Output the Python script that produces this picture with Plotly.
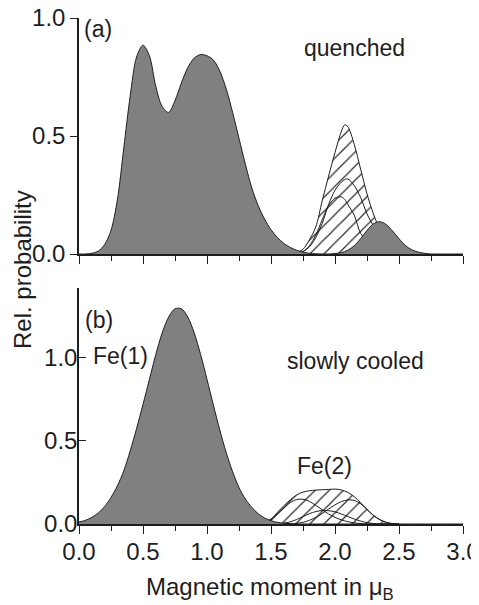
import plotly.graph_objects as go

# ---------------- data ----------------
# panel (a) quenched : Fe(1) grey distribution
xa_fe1 = [0.00, 0.05, 0.10, 0.15, 0.20, 0.25, 0.30, 0.35, 0.40, 0.45, 0.50, 0.55,
          0.60, 0.65, 0.70, 0.75, 0.80, 0.85, 0.90, 0.95, 1.00, 1.05, 1.10, 1.15,
          1.20, 1.25, 1.30, 1.35, 1.40, 1.45, 1.50, 1.55, 1.60, 1.65, 1.70, 1.75,
          1.80, 1.85, 1.90, 1.95, 2.00, 2.05, 2.10, 2.15, 2.20, 2.25, 2.30, 2.35,
          2.40, 2.45, 2.50, 2.55, 2.60, 2.65, 2.70, 2.75, 2.80, 2.90, 3.00]
ya_fe1 = [0.000, 0.000, 0.003, 0.012, 0.040, 0.100, 0.230, 0.450, 0.670, 0.835, 0.885, 0.840,
          0.710, 0.625, 0.600, 0.650, 0.725, 0.790, 0.830, 0.845, 0.840, 0.822, 0.775, 0.700,
          0.600, 0.490, 0.380, 0.280, 0.205, 0.148, 0.103, 0.070, 0.045, 0.028, 0.016, 0.008,
          0.003, 0.001, 0.000, 0.000, 0.002, 0.006, 0.016, 0.035, 0.065, 0.100, 0.128, 0.137,
          0.125, 0.097, 0.065, 0.036, 0.018, 0.008, 0.003, 0.000, 0.000, 0.000, 0.000]

# panel (a) : Fe(2) hatched envelope and two components
xa_fe2 = [1.65, 1.70, 1.75, 1.80, 1.85, 1.90, 1.95, 2.00, 2.05, 2.075, 2.10, 2.15,
          2.20, 2.25, 2.30, 2.35, 2.40, 2.45, 2.50, 2.55, 2.60]
ya_fe2_env = [0.000, 0.005, 0.020, 0.060, 0.115, 0.225, 0.330, 0.430, 0.520, 0.547, 0.540, 0.465,
              0.360, 0.255, 0.170, 0.105, 0.060, 0.030, 0.012, 0.004, 0.000]
ya_fe2_c1 = [0.000, 0.000, 0.010, 0.030, 0.070, 0.130, 0.210, 0.270, 0.305, 0.315, 0.318, 0.290,
             0.240, 0.170, 0.120, 0.075, 0.040, 0.020, 0.008, 0.002, 0.000]
ya_fe2_c2 = [0.000, 0.000, 0.010, 0.035, 0.080, 0.145, 0.205, 0.237, 0.242, 0.232, 0.210, 0.165,
             0.088, 0.055, 0.025, 0.010, 0.000, 0.000, 0.000, 0.000, 0.000]

# panel (b) slowly cooled : Fe(1) grey distribution
xb_fe1 = [0.00, 0.05, 0.10, 0.15, 0.20, 0.25, 0.30, 0.35, 0.40, 0.45, 0.50, 0.55,
          0.60, 0.65, 0.70, 0.75, 0.80, 0.85, 0.90, 0.95, 1.00, 1.05, 1.10, 1.15,
          1.20, 1.25, 1.30, 1.35, 1.40, 1.45, 1.50, 1.55, 1.60, 1.65, 1.70, 1.80,
          2.00, 2.50, 3.00]
yb_fe1 = [0.012, 0.022, 0.040, 0.066, 0.105, 0.160, 0.230, 0.320, 0.440, 0.575, 0.720, 0.870,
          1.020, 1.150, 1.245, 1.295, 1.295, 1.245, 1.150, 1.020, 0.870, 0.715, 0.565, 0.430,
          0.315, 0.220, 0.150, 0.100, 0.062, 0.036, 0.020, 0.010, 0.005, 0.002, 0.000, 0.000,
          0.000, 0.000, 0.000]

# panel (b) : Fe(2) hatched envelope and three components
xb_fe2 = [1.40, 1.45, 1.50, 1.55, 1.60, 1.65, 1.70, 1.75, 1.80, 1.85, 1.90, 1.95,
          2.00, 2.05, 2.10, 2.15, 2.20, 2.25, 2.30, 2.35, 2.40, 2.45, 2.50]
yb_fe2_env = [0.000, 0.010, 0.030, 0.070, 0.110, 0.145, 0.175, 0.192, 0.200, 0.204, 0.206, 0.208,
              0.210, 0.205, 0.190, 0.165, 0.128, 0.088, 0.052, 0.026, 0.010, 0.002, 0.000]
yb_fe2_c1 = [0.000, 0.008, 0.025, 0.060, 0.095, 0.128, 0.147, 0.149, 0.136, 0.112, 0.086, 0.060,
             0.040, 0.025, 0.014, 0.007, 0.003, 0.000, 0.000, 0.000, 0.000, 0.000, 0.000]
yb_fe2_c2 = [0.000, 0.000, 0.000, 0.000, 0.005, 0.013, 0.027, 0.045, 0.062, 0.075, 0.081, 0.080,
             0.073, 0.060, 0.045, 0.030, 0.018, 0.008, 0.003, 0.000, 0.000, 0.000, 0.000]
yb_fe2_c3 = [0.000, 0.000, 0.000, 0.000, 0.000, 0.000, 0.004, 0.010, 0.022, 0.040, 0.063, 0.090,
             0.115, 0.135, 0.145, 0.142, 0.122, 0.088, 0.052, 0.026, 0.010, 0.002, 0.000]

x_ticks = [0.0, 0.5, 1.0, 1.5, 2.0, 2.5, 3.0]
x_ticklabels = ["0.0", "0.5", "1.0", "1.5", "2.0", "2.5", "3.0"]
y_ticks = [0.0, 0.5, 1.0]
y_ticklabels = ["0.0", "0.5", "1.0"]

# ---------------- styling ----------------
PAGE_OFF = 8                 # default body margin of the html page
W, H = 479 - PAGE_OFF, 605 - PAGE_OFF
FONT = "Liberation Sans, Arial, sans-serif"
INK = "#1e1e1e"
GREY = "#808080"


def fx(x):
    return (x - PAGE_OFF) / W


def fy(y):
    return 1 - (y - PAGE_OFF) / H


fig = go.Figure()

line_kw = dict(shape="spline", smoothing=0.9, color=INK, width=1)
hatch = dict(shape="/", fgcolor="#2a2a2a", bgcolor="white", size=10, solidity=0.12)


def add_panel(xa, ya, x2, env, comps, xref, yref):
    fig.add_trace(go.Scatter(x=x2, y=env, mode="lines", line=line_kw, fill="tozeroy",
                             fillcolor="white", fillpattern=hatch, xaxis=xref, yaxis=yref,
                             hoverinfo="skip", showlegend=False))
    for c in comps:
        fig.add_trace(go.Scatter(x=x2, y=c, mode="lines", line=line_kw, xaxis=xref,
                                 yaxis=yref, hoverinfo="skip", showlegend=False))
    fig.add_trace(go.Scatter(x=xa, y=ya, mode="lines", line=line_kw, fill="tozeroy",
                             fillcolor=GREY, xaxis=xref, yaxis=yref, hoverinfo="skip",
                             showlegend=False))


add_panel(xa_fe1, ya_fe1, xa_fe2, ya_fe2_env, [ya_fe2_c1, ya_fe2_c2], "x", "y")
add_panel(xb_fe1, yb_fe1, xb_fe2, yb_fe2_env, [yb_fe2_c1, yb_fe2_c2, yb_fe2_c3], "x2", "y2")

xdom = [fx(79), fx(463)]
axis_common = dict(showline=True, linecolor=INK, linewidth=1.5, showgrid=False,
                   zeroline=False, automargin=False, tickcolor=INK, tickwidth=1.2,
                   ticklabeloverflow="allow",
                   tickfont=dict(family=FONT, size=24, color=INK))
minor_x = dict(dtick=0.25, tick0=0, ticks="outside", ticklen=5, tickcolor=INK, tickwidth=1.2)

fig.update_layout(
    width=W, height=H, template="none",
    paper_bgcolor="white", plot_bgcolor="rgba(0,0,0,0)",
    margin=dict(l=0, r=0, t=0, b=0),
    showlegend=False,
    xaxis=dict(domain=xdom, anchor="y", range=[0, 3], tickvals=x_ticks, ticks="outside",
               ticklen=8, showticklabels=False, minor=minor_x, **axis_common),
    yaxis=dict(domain=[fy(254), fy(18)], anchor="x", range=[0, 1.0],
               tickvals=y_ticks, ticktext=y_ticklabels, ticks="outside", ticklen=7,
               **axis_common),
    xaxis2=dict(domain=xdom, anchor="y2", range=[0, 3], tickvals=x_ticks,
                ticktext=x_ticklabels, ticks="outside", ticklen=8, minor=minor_x,
                ticklabelstandoff=-3, **axis_common),
    yaxis2=dict(domain=[fy(524), fy(288)], anchor="x2", range=[0, 1.42],
                tickvals=y_ticks, ticktext=y_ticklabels, ticks="inside", ticklen=7,
                ticklabelstandoff=-5, **axis_common),
)


def label(text, x, y, xanchor="center", size=23, angle=0):
    fig.add_annotation(text=text, x=fx(x), y=fy(y), xref="paper", yref="paper",
                       xanchor=xanchor, yanchor="middle", showarrow=False,
                       textangle=angle, font=dict(family=FONT, size=size, color=INK))


label("(a)", 82, 29, xanchor="left")
label("quenched", 354, 48)
label("(b)", 83, 320, xanchor="left")
label("Fe(1)", 91, 356, xanchor="left")
label("slowly cooled", 355, 361)
label("Fe(2)", 324, 466)
label("Rel. probability", 22, 270, size=24, angle=-90)
label("Magnetic moment in \u03bc<sub>B</sub>", 270, 588, size=24)

fig.write_html("out.html")
